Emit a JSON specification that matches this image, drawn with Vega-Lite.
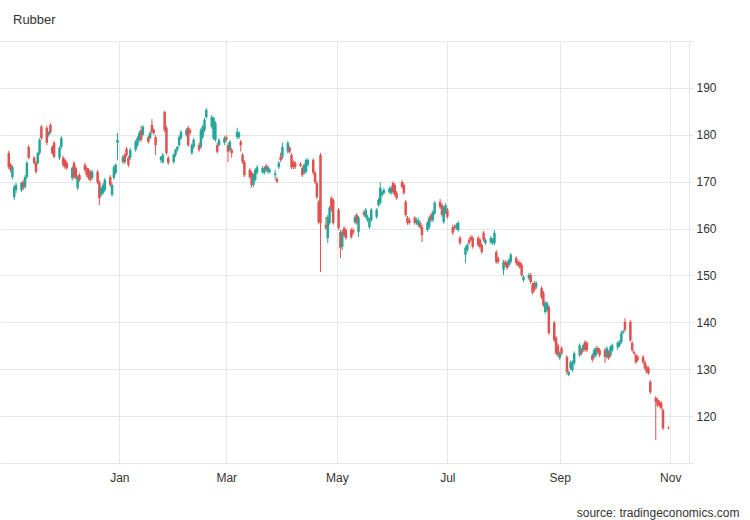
{
"$schema": "https://vega.github.io/schema/vega-lite/v6.json",
"width": 689, "height": 422,
"autosize": {"type": "none"},
"padding": {"left": 0, "top": 41, "right": 61, "bottom": 57},
"background": "white",
"config": {"font": "Liberation Sans", "view": {"stroke": null}},
"title": {"text": "Rubber", "anchor": "start", "frame": "group", "dx": 13, "offset": 4, "baseline": "alphabetic", "fontSize": 13, "fontWeight": "normal", "color": "#333333", "font": "Liberation Sans"},
"data": {"values": [
{"date":"2021-11-01","open":176.1,"high":176.6,"low":172.7,"close":173.1},
{"date":"2021-11-02","open":173.6,"high":174.0,"low":172.0,"close":172.5},
{"date":"2021-11-03","open":171.0,"high":173.5,"low":170.5,"close":173.1},
{"date":"2021-11-04","open":166.7,"high":169.3,"low":166.1,"close":168.9},
{"date":"2021-11-05","open":168.2,"high":169.7,"low":167.6,"close":169.3},
{"date":"2021-11-08","open":168.2,"high":170.0,"low":167.8,"close":169.7},
{"date":"2021-11-09","open":169.9,"high":170.4,"low":168.2,"close":168.7},
{"date":"2021-11-10","open":168.9,"high":171.4,"low":168.5,"close":171.0},
{"date":"2021-11-11","open":171.0,"high":174.4,"low":170.6,"close":174.0},
{"date":"2021-11-12","open":177.4,"high":177.8,"low":174.8,"close":175.1},
{"date":"2021-11-15","open":175.1,"high":175.5,"low":173.6,"close":174.0},
{"date":"2021-11-16","open":174.0,"high":174.4,"low":171.7,"close":172.1},
{"date":"2021-11-17","open":174.0,"high":176.4,"low":173.6,"close":176.1},
{"date":"2021-11-18","open":176.1,"high":179.3,"low":175.7,"close":178.9},
{"date":"2021-11-19","open":181.7,"high":182.1,"low":178.9,"close":179.3},
{"date":"2021-11-22","open":181.5,"high":181.9,"low":177.8,"close":178.3},
{"date":"2021-11-23","open":180.0,"high":180.8,"low":179.6,"close":180.6},
{"date":"2021-11-24","open":182.1,"high":182.5,"low":180.2,"close":180.6},
{"date":"2021-11-25","open":177.4,"high":177.8,"low":175.7,"close":176.1},
{"date":"2021-11-26","open":178.3,"high":178.7,"low":175.0,"close":175.3},
{"date":"2021-11-29","open":175.1,"high":177.6,"low":174.6,"close":177.2},
{"date":"2021-11-30","open":177.4,"high":179.7,"low":177.0,"close":179.3},
{"date":"2021-12-01","open":175.1,"high":175.5,"low":173.1,"close":173.6},
{"date":"2021-12-02","open":174.6,"high":175.0,"low":172.7,"close":173.1},
{"date":"2021-12-03","open":174.0,"high":174.4,"low":172.5,"close":172.9},
{"date":"2021-12-06","open":170.8,"high":173.3,"low":170.2,"close":172.9},
{"date":"2021-12-07","open":174.0,"high":174.4,"low":170.6,"close":171.0},
{"date":"2021-12-08","open":172.9,"high":173.3,"low":170.4,"close":170.8},
{"date":"2021-12-09","open":168.7,"high":171.4,"low":168.2,"close":171.0},
{"date":"2021-12-10","open":171.4,"high":171.8,"low":170.0,"close":170.4},
{"date":"2021-12-13","open":173.6,"high":174.0,"low":172.1,"close":172.5},
{"date":"2021-12-14","open":172.9,"high":173.3,"low":171.0,"close":171.4},
{"date":"2021-12-15","open":172.5,"high":172.9,"low":170.4,"close":170.8},
{"date":"2021-12-16","open":172.1,"high":172.5,"low":170.0,"close":170.4},
{"date":"2021-12-17","open":170.8,"high":172.5,"low":170.4,"close":172.1},
{"date":"2021-12-20","open":172.1,"high":172.5,"low":169.5,"close":169.9},
{"date":"2021-12-21","open":169.9,"high":170.3,"low":165.0,"close":166.5},
{"date":"2021-12-22","open":167.2,"high":168.9,"low":166.8,"close":168.7},
{"date":"2021-12-23","open":167.6,"high":169.7,"low":167.2,"close":169.3},
{"date":"2021-12-24","open":168.2,"high":170.8,"low":167.8,"close":170.4},
{"date":"2021-12-27","open":171.0,"high":171.4,"low":168.9,"close":169.3},
{"date":"2021-12-28","open":167.2,"high":169.7,"low":166.8,"close":169.3},
{"date":"2021-12-29","open":170.8,"high":173.5,"low":170.4,"close":173.1},
{"date":"2021-12-30","open":171.9,"high":173.9,"low":171.5,"close":173.6},
{"date":"2021-12-31","open":178.3,"high":180.4,"low":174.6,"close":178.9},
{"date":"2022-01-03","open":174.2,"high":175.7,"low":173.8,"close":175.3},
{"date":"2022-01-04","open":175.7,"high":176.1,"low":173.8,"close":174.2},
{"date":"2022-01-05","open":177.0,"high":177.4,"low":175.3,"close":175.7},
{"date":"2022-01-06","open":175.1,"high":175.5,"low":173.1,"close":173.6},
{"date":"2022-01-07","open":175.1,"high":177.2,"low":174.6,"close":176.8},
{"date":"2022-01-10","open":176.8,"high":178.9,"low":176.4,"close":178.5},
{"date":"2022-01-11","open":177.8,"high":179.7,"low":177.4,"close":179.3},
{"date":"2022-01-12","open":178.9,"high":180.8,"low":178.5,"close":180.4},
{"date":"2022-01-13","open":181.0,"high":181.9,"low":178.5,"close":178.9},
{"date":"2022-01-14","open":180.0,"high":182.1,"low":179.6,"close":181.7},
{"date":"2022-01-17","open":179.5,"high":179.9,"low":178.1,"close":178.5},
{"date":"2022-01-18","open":179.3,"high":180.8,"low":178.9,"close":180.4},
{"date":"2022-01-19","open":182.1,"high":183.4,"low":180.2,"close":180.6},
{"date":"2022-01-20","open":181.0,"high":181.4,"low":180.0,"close":180.4},
{"date":"2022-01-21","open":179.5,"high":179.9,"low":175.7,"close":177.8},
{"date":"2022-01-24","open":174.6,"high":175.5,"low":174.0,"close":175.3},
{"date":"2022-01-25","open":174.2,"high":176.1,"low":173.8,"close":175.7},
{"date":"2022-01-26","open":184.9,"high":185.1,"low":180.6,"close":181.0},
{"date":"2022-01-27","open":181.5,"high":181.9,"low":175.7,"close":176.1},
{"date":"2022-01-28","open":175.1,"high":175.5,"low":173.6,"close":174.0},
{"date":"2022-01-31","open":174.2,"high":176.1,"low":173.8,"close":175.7},
{"date":"2022-02-01","open":175.7,"high":177.0,"low":175.3,"close":176.8},
{"date":"2022-02-02","open":176.8,"high":177.6,"low":176.4,"close":177.4},
{"date":"2022-02-03","open":177.8,"high":179.9,"low":177.4,"close":179.5},
{"date":"2022-02-04","open":179.3,"high":181.0,"low":178.9,"close":180.6},
{"date":"2022-02-07","open":180.0,"high":181.4,"low":179.6,"close":181.0},
{"date":"2022-02-08","open":181.5,"high":181.9,"low":177.4,"close":177.8},
{"date":"2022-02-09","open":181.0,"high":181.4,"low":180.0,"close":180.4},
{"date":"2022-02-10","open":176.1,"high":178.1,"low":175.7,"close":177.8},
{"date":"2022-02-11","open":177.4,"high":179.3,"low":177.0,"close":178.9},
{"date":"2022-02-14","open":177.8,"high":178.3,"low":176.4,"close":176.8},
{"date":"2022-02-15","open":177.4,"high":181.4,"low":177.0,"close":181.0},
{"date":"2022-02-16","open":179.5,"high":182.1,"low":179.1,"close":181.7},
{"date":"2022-02-17","open":181.0,"high":183.6,"low":180.6,"close":183.2},
{"date":"2022-02-18","open":183.8,"high":185.7,"low":183.4,"close":185.3},
{"date":"2022-02-21","open":181.7,"high":184.2,"low":181.3,"close":183.8},
{"date":"2022-02-22","open":179.3,"high":183.8,"low":178.9,"close":183.6},
{"date":"2022-02-23","open":178.9,"high":182.9,"low":178.5,"close":182.5},
{"date":"2022-02-24","open":177.8,"high":178.3,"low":176.0,"close":176.4},
{"date":"2022-02-25","open":177.8,"high":179.3,"low":177.4,"close":178.9},
{"date":"2022-02-28","open":178.3,"high":179.7,"low":177.8,"close":179.3},
{"date":"2022-03-01","open":179.5,"high":179.9,"low":178.5,"close":178.9},
{"date":"2022-03-02","open":177.8,"high":178.3,"low":174.2,"close":176.4},
{"date":"2022-03-03","open":176.8,"high":178.9,"low":176.4,"close":178.5},
{"date":"2022-03-04","open":176.8,"high":177.2,"low":175.1,"close":176.1},
{"date":"2022-03-07","open":179.5,"high":181.5,"low":179.1,"close":180.6},
{"date":"2022-03-08","open":179.5,"high":180.8,"low":179.1,"close":180.4},
{"date":"2022-03-09","open":178.5,"high":178.9,"low":176.4,"close":177.8},
{"date":"2022-03-10","open":175.7,"high":176.1,"low":173.8,"close":174.2},
{"date":"2022-03-11","open":174.2,"high":174.6,"low":171.0,"close":171.4},
{"date":"2022-03-14","open":172.5,"high":172.9,"low":170.6,"close":171.0},
{"date":"2022-03-15","open":171.9,"high":172.3,"low":168.7,"close":169.3},
{"date":"2022-03-16","open":169.3,"high":171.8,"low":168.9,"close":171.4},
{"date":"2022-03-17","open":170.4,"high":172.9,"low":170.0,"close":172.5},
{"date":"2022-03-18","open":171.9,"high":173.5,"low":171.5,"close":173.1},
{"date":"2022-03-21","open":172.1,"high":173.3,"low":171.7,"close":172.9},
{"date":"2022-03-22","open":171.9,"high":173.3,"low":171.5,"close":172.9},
{"date":"2022-03-23","open":173.4,"high":173.8,"low":172.1,"close":172.5},
{"date":"2022-03-24","open":172.1,"high":173.5,"low":171.7,"close":173.1},
{"date":"2022-03-25","open":172.1,"high":172.9,"low":171.7,"close":172.5},
{"date":"2022-03-28","open":171.4,"high":172.5,"low":170.4,"close":171.8},
{"date":"2022-03-29","open":170.6,"high":171.0,"low":169.7,"close":170.0},
{"date":"2022-03-30","open":173.1,"high":174.4,"low":172.7,"close":174.0},
{"date":"2022-03-31","open":175.3,"high":176.2,"low":174.2,"close":174.6},
{"date":"2022-04-01","open":175.3,"high":178.3,"low":174.8,"close":177.4},
{"date":"2022-04-04","open":176.4,"high":178.7,"low":176.0,"close":178.3},
{"date":"2022-04-05","open":177.2,"high":177.6,"low":176.0,"close":176.4},
{"date":"2022-04-06","open":175.7,"high":176.1,"low":172.7,"close":173.1},
{"date":"2022-04-07","open":174.2,"high":174.6,"low":172.7,"close":173.1},
{"date":"2022-04-08","open":174.0,"high":174.4,"low":172.7,"close":173.1},
{"date":"2022-04-11","open":173.8,"high":174.2,"low":173.1,"close":173.4},
{"date":"2022-04-12","open":172.9,"high":173.3,"low":171.0,"close":171.4},
{"date":"2022-04-13","open":171.9,"high":173.9,"low":171.5,"close":173.6},
{"date":"2022-04-14","open":172.1,"high":175.0,"low":171.7,"close":174.6},
{"date":"2022-04-15","open":173.6,"high":175.0,"low":173.2,"close":174.6},
{"date":"2022-04-18","open":174.6,"high":175.0,"low":171.5,"close":171.9},
{"date":"2022-04-19","open":171.9,"high":172.3,"low":169.5,"close":169.9},
{"date":"2022-04-20","open":169.7,"high":170.1,"low":166.3,"close":166.7},
{"date":"2022-04-21","open":165.7,"high":166.1,"low":160.9,"close":161.4},
{"date":"2022-04-22","open":175.7,"high":176.1,"low":150.7,"close":161.2},
{"date":"2022-04-25","open":160.8,"high":162.5,"low":159.7,"close":160.1},
{"date":"2022-04-26","open":158.0,"high":162.9,"low":156.9,"close":162.5},
{"date":"2022-04-27","open":161.2,"high":164.8,"low":160.8,"close":164.4},
{"date":"2022-04-28","open":166.5,"high":166.9,"low":163.6,"close":164.0},
{"date":"2022-04-29","open":166.1,"high":166.5,"low":160.8,"close":161.2},
{"date":"2022-05-02","open":164.0,"high":164.4,"low":159.7,"close":160.1},
{"date":"2022-05-03","open":159.3,"high":159.7,"low":153.7,"close":155.9},
{"date":"2022-05-04","open":156.1,"high":159.7,"low":155.4,"close":159.3},
{"date":"2022-05-05","open":160.1,"high":160.5,"low":158.2,"close":158.6},
{"date":"2022-05-06","open":159.7,"high":160.1,"low":157.6,"close":158.0},
{"date":"2022-05-09","open":159.7,"high":160.1,"low":157.8,"close":158.2},
{"date":"2022-05-10","open":159.7,"high":160.1,"low":158.6,"close":159.1},
{"date":"2022-05-11","open":161.4,"high":162.9,"low":161.0,"close":162.5},
{"date":"2022-05-12","open":162.9,"high":163.3,"low":160.8,"close":161.2},
{"date":"2022-05-13","open":159.3,"high":162.7,"low":158.2,"close":162.3},
{"date":"2022-05-16","open":163.5,"high":163.9,"low":162.5,"close":162.9},
{"date":"2022-05-17","open":162.5,"high":164.4,"low":162.1,"close":164.0},
{"date":"2022-05-18","open":161.8,"high":162.9,"low":161.4,"close":162.5},
{"date":"2022-05-19","open":160.3,"high":162.3,"low":159.9,"close":161.8},
{"date":"2022-05-20","open":161.8,"high":164.4,"low":161.4,"close":164.0},
{"date":"2022-05-23","open":162.5,"high":164.4,"low":162.1,"close":164.0},
{"date":"2022-05-24","open":165.0,"high":166.5,"low":164.6,"close":166.1},
{"date":"2022-05-25","open":165.5,"high":169.9,"low":165.1,"close":168.7},
{"date":"2022-05-26","open":167.2,"high":168.2,"low":166.8,"close":167.8},
{"date":"2022-05-27","open":167.6,"high":168.7,"low":167.2,"close":168.2},
{"date":"2022-05-30","open":167.8,"high":168.9,"low":167.4,"close":168.5},
{"date":"2022-05-31","open":167.6,"high":169.1,"low":167.2,"close":168.7},
{"date":"2022-06-01","open":169.7,"high":170.1,"low":167.4,"close":167.8},
{"date":"2022-06-02","open":169.3,"high":169.7,"low":166.8,"close":167.2},
{"date":"2022-06-03","open":167.6,"high":168.0,"low":166.1,"close":166.5},
{"date":"2022-06-06","open":169.9,"high":170.4,"low":168.5,"close":168.9},
{"date":"2022-06-07","open":169.3,"high":169.7,"low":167.2,"close":167.6},
{"date":"2022-06-08","open":165.7,"high":166.1,"low":162.5,"close":162.9},
{"date":"2022-06-09","open":162.3,"high":162.7,"low":160.8,"close":161.2},
{"date":"2022-06-10","open":161.8,"high":162.3,"low":160.8,"close":161.2},
{"date":"2022-06-13","open":162.3,"high":162.7,"low":160.8,"close":161.2},
{"date":"2022-06-14","open":161.2,"high":162.3,"low":160.8,"close":161.8},
{"date":"2022-06-15","open":160.8,"high":162.3,"low":160.3,"close":161.8},
{"date":"2022-06-16","open":161.2,"high":161.6,"low":159.9,"close":160.3},
{"date":"2022-06-17","open":160.3,"high":160.8,"low":157.1,"close":158.6},
{"date":"2022-06-20","open":159.7,"high":161.6,"low":159.3,"close":161.2},
{"date":"2022-06-21","open":160.3,"high":162.7,"low":159.9,"close":162.3},
{"date":"2022-06-22","open":162.9,"high":163.3,"low":161.4,"close":161.8},
{"date":"2022-06-23","open":161.8,"high":163.9,"low":161.4,"close":163.5},
{"date":"2022-06-24","open":163.3,"high":165.9,"low":162.9,"close":165.5},
{"date":"2022-06-27","open":165.7,"high":166.3,"low":164.2,"close":164.6},
{"date":"2022-06-28","open":165.0,"high":165.4,"low":162.5,"close":162.9},
{"date":"2022-06-29","open":161.4,"high":164.8,"low":161.0,"close":164.4},
{"date":"2022-06-30","open":163.5,"high":165.4,"low":163.1,"close":165.0},
{"date":"2022-07-01","open":164.0,"high":164.4,"low":162.1,"close":162.5},
{"date":"2022-07-04","open":160.3,"high":160.8,"low":158.6,"close":159.1},
{"date":"2022-07-05","open":160.3,"high":160.8,"low":159.7,"close":160.1},
{"date":"2022-07-06","open":160.1,"high":161.2,"low":159.7,"close":160.8},
{"date":"2022-07-07","open":159.7,"high":161.6,"low":159.3,"close":161.2},
{"date":"2022-07-08","open":158.0,"high":158.4,"low":156.5,"close":156.9},
{"date":"2022-07-11","open":154.4,"high":156.3,"low":152.7,"close":155.9},
{"date":"2022-07-12","open":155.4,"high":156.9,"low":155.0,"close":156.5},
{"date":"2022-07-13","open":157.6,"high":158.0,"low":156.5,"close":156.9},
{"date":"2022-07-14","open":158.2,"high":158.6,"low":157.2,"close":157.6},
{"date":"2022-07-15","open":158.0,"high":158.4,"low":155.7,"close":156.1},
{"date":"2022-07-18","open":158.0,"high":158.4,"low":156.1,"close":156.5},
{"date":"2022-07-19","open":157.6,"high":158.0,"low":155.7,"close":156.1},
{"date":"2022-07-20","open":156.5,"high":156.9,"low":154.6,"close":155.0},
{"date":"2022-07-21","open":159.1,"high":159.5,"low":157.2,"close":157.6},
{"date":"2022-07-22","open":156.9,"high":158.0,"low":156.5,"close":157.6},
{"date":"2022-07-25","open":157.1,"high":158.4,"low":156.7,"close":158.0},
{"date":"2022-07-26","open":156.9,"high":158.0,"low":156.5,"close":157.6},
{"date":"2022-07-27","open":156.9,"high":159.7,"low":156.5,"close":159.1},
{"date":"2022-07-28","open":155.0,"high":155.4,"low":152.5,"close":152.9},
{"date":"2022-07-29","open":153.7,"high":154.1,"low":152.5,"close":152.9},
{"date":"2022-08-01","open":151.2,"high":153.3,"low":150.1,"close":152.9},
{"date":"2022-08-02","open":152.9,"high":153.3,"low":151.8,"close":152.2},
{"date":"2022-08-03","open":152.7,"high":153.1,"low":151.2,"close":151.6},
{"date":"2022-08-04","open":152.2,"high":153.7,"low":151.8,"close":153.3},
{"date":"2022-08-05","open":152.9,"high":154.8,"low":152.5,"close":154.4},
{"date":"2022-08-08","open":153.7,"high":154.1,"low":152.2,"close":152.7},
{"date":"2022-08-09","open":152.9,"high":153.3,"low":151.8,"close":152.2},
{"date":"2022-08-10","open":152.7,"high":153.1,"low":151.4,"close":151.8},
{"date":"2022-08-11","open":152.2,"high":152.7,"low":149.7,"close":150.1},
{"date":"2022-08-12","open":149.0,"high":150.1,"low":148.6,"close":149.7},
{"date":"2022-08-15","open":149.4,"high":150.5,"low":149.0,"close":150.1},
{"date":"2022-08-16","open":150.1,"high":150.5,"low":148.2,"close":148.6},
{"date":"2022-08-17","open":148.0,"high":148.4,"low":145.9,"close":146.3},
{"date":"2022-08-18","open":148.4,"high":148.8,"low":146.5,"close":146.9},
{"date":"2022-08-19","open":147.5,"high":148.8,"low":147.1,"close":148.4},
{"date":"2022-08-22","open":147.3,"high":147.7,"low":145.0,"close":145.4},
{"date":"2022-08-23","open":146.3,"high":146.7,"low":143.3,"close":143.7},
{"date":"2022-08-24","open":142.2,"high":144.5,"low":141.8,"close":144.1},
{"date":"2022-08-25","open":142.6,"high":144.5,"low":142.2,"close":144.1},
{"date":"2022-08-26","open":143.3,"high":143.7,"low":137.3,"close":137.7},
{"date":"2022-08-29","open":139.9,"high":140.3,"low":135.8,"close":136.2},
{"date":"2022-08-30","open":136.7,"high":137.1,"low":133.0,"close":133.4},
{"date":"2022-08-31","open":135.1,"high":135.5,"low":132.6,"close":133.0},
{"date":"2022-09-01","open":132.4,"high":133.8,"low":132.0,"close":133.4},
{"date":"2022-09-02","open":134.5,"high":134.9,"low":133.0,"close":133.4},
{"date":"2022-09-05","open":132.6,"high":133.0,"low":128.8,"close":129.4},
{"date":"2022-09-06","open":128.8,"high":129.8,"low":128.5,"close":129.4},
{"date":"2022-09-07","open":130.2,"high":131.9,"low":129.8,"close":131.5},
{"date":"2022-09-08","open":129.8,"high":131.9,"low":129.4,"close":131.5},
{"date":"2022-09-09","open":131.3,"high":133.8,"low":130.9,"close":133.4},
{"date":"2022-09-12","open":133.0,"high":135.5,"low":132.6,"close":135.1},
{"date":"2022-09-13","open":134.1,"high":134.5,"low":133.0,"close":133.4},
{"date":"2022-09-14","open":134.1,"high":135.5,"low":133.7,"close":135.1},
{"date":"2022-09-15","open":135.8,"high":136.2,"low":133.7,"close":134.1},
{"date":"2022-09-16","open":135.6,"high":136.0,"low":133.7,"close":134.1},
{"date":"2022-09-19","open":133.0,"high":133.4,"low":131.5,"close":132.0},
{"date":"2022-09-20","open":132.6,"high":134.5,"low":132.2,"close":134.1},
{"date":"2022-09-21","open":133.0,"high":134.9,"low":132.6,"close":134.5},
{"date":"2022-09-22","open":134.5,"high":134.9,"low":133.3,"close":133.7},
{"date":"2022-09-23","open":134.1,"high":134.5,"low":132.6,"close":133.0},
{"date":"2022-09-26","open":134.1,"high":134.5,"low":131.3,"close":132.6},
{"date":"2022-09-27","open":132.6,"high":134.9,"low":132.2,"close":134.5},
{"date":"2022-09-28","open":133.7,"high":134.1,"low":132.0,"close":132.4},
{"date":"2022-09-29","open":133.0,"high":135.1,"low":132.6,"close":134.7},
{"date":"2022-09-30","open":134.1,"high":135.5,"low":133.7,"close":135.1},
{"date":"2022-10-03","open":134.7,"high":136.0,"low":134.1,"close":135.6},
{"date":"2022-10-04","open":135.1,"high":136.2,"low":134.7,"close":135.8},
{"date":"2022-10-05","open":135.8,"high":138.2,"low":135.4,"close":137.7},
{"date":"2022-10-06","open":137.8,"high":138.4,"low":137.5,"close":138.1},
{"date":"2022-10-07","open":140.1,"high":140.9,"low":138.0,"close":138.4},
{"date":"2022-10-10","open":140.1,"high":140.5,"low":135.8,"close":136.2},
{"date":"2022-10-11","open":135.6,"high":136.0,"low":133.7,"close":134.1},
{"date":"2022-10-12","open":133.7,"high":134.1,"low":133.0,"close":133.4},
{"date":"2022-10-13","open":133.0,"high":133.4,"low":131.1,"close":131.5},
{"date":"2022-10-14","open":132.6,"high":133.0,"low":131.6,"close":132.0},
{"date":"2022-10-17","open":132.6,"high":133.0,"low":131.1,"close":131.5},
{"date":"2022-10-18","open":131.5,"high":131.9,"low":129.8,"close":130.2},
{"date":"2022-10-19","open":130.5,"high":130.9,"low":129.0,"close":129.4},
{"date":"2022-10-20","open":130.2,"high":130.6,"low":128.8,"close":129.2},
{"date":"2022-10-21","open":127.3,"high":127.7,"low":124.7,"close":125.1},
{"date":"2022-10-24","open":123.9,"high":124.3,"low":114.9,"close":123.0},
{"date":"2022-10-25","open":123.4,"high":123.8,"low":121.9,"close":122.3},
{"date":"2022-10-26","open":123.0,"high":123.4,"low":121.9,"close":122.3},
{"date":"2022-10-27","open":122.8,"high":123.2,"low":121.3,"close":121.7},
{"date":"2022-10-28","open":121.3,"high":121.7,"low":117.0,"close":117.4},
{"date":"2022-10-31","open":117.5,"high":117.8,"low":117.2,"close":117.4}
]},
"encoding": {
  "x": {"field": "date", "type": "temporal",
    "scale": {"type": "utc", "domain": [{"year": 2021, "month": "oct", "date": 29, "hours": 22, "utc": true}, {"year": 2022, "month": "nov", "date": 8, "hours": 14, "utc": true}]},
    "axis": {"values": [{"year": 2022, "month": "jan", "date": 1, "utc": true}, {"year": 2022, "month": "mar", "date": 1, "utc": true}, {"year": 2022, "month": "may", "date": 1, "utc": true}, {"year": 2022, "month": "jul", "date": 1, "utc": true}, {"year": 2022, "month": "sep", "date": 1, "utc": true}, {"year": 2022, "month": "nov", "date": 1, "utc": true}],
      "labelExpr": "utcFormat(datum.value, '%b')", "grid": true, "gridColor": "#e6e6e6", "domain": false, "ticks": false, "labelPadding": 9, "labelFontSize": 12, "labelColor": "#333333", "labelFont": "Liberation Sans",
      "title": "source: tradingeconomics.com", "titleX": 739, "titleY": 53, "titleAlign": "right", "titleBaseline": "alphabetic", "titleFontSize": 12, "titleFontWeight": "normal", "titleColor": "#333333", "titleFont": "Liberation Sans"}},
  "color": {"condition": {"test": "datum.close >= datum.open", "value": "#26a69a"}, "value": "#e0524f"}
},
"layer": [
  {"mark": {"type": "rule", "strokeWidth": 1},
   "encoding": {
     "y": {"field": "low", "type": "quantitative", "scale": {"domain": [110, 200], "nice": false, "zero": false},
       "axis": {"orient": "right", "values": [110, 120, 130, 140, 150, 160, 170, 180, 190, 200], "labelExpr": "datum.value >= 120 && datum.value <= 190 ? datum.label : ''", "grid": true, "gridColor": "#e6e6e6", "domain": true, "domainColor": "#e6e6e6", "tickColor": "#e6e6e6", "tickSize": 4, "labelPadding": 3, "labelFontSize": 12, "labelColor": "#333333", "labelFont": "Liberation Sans", "title": null}},
     "y2": {"field": "high"}}},
  {"mark": {"type": "bar", "size": 2.5},
   "encoding": {
     "y": {"field": "open", "type": "quantitative", "axis": {"title": null}},
     "y2": {"field": "close"}}}
]
}
